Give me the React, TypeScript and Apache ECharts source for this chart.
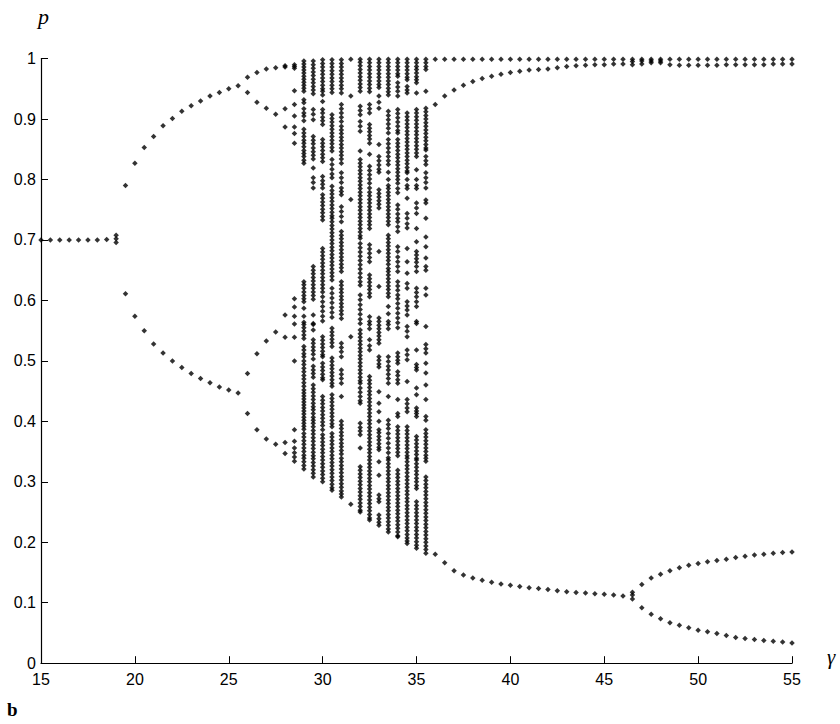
import React, { useEffect, useRef } from "react";
import * as echarts from "echarts";

// ---- tick labels ----
const xTicks = [15, 20, 25, 30, 35, 40, 45, 50, 55];
const yTicks = [0, 0.1, 0.2, 0.3, 0.4, 0.5, 0.6, 0.7, 0.8, 0.9, 1];

// ---- period 1 ----
const gammaP1 = [15, 15.5, 16, 16.5, 17, 17.5, 18, 18.5];
const pP1 = [0.7, 0.7, 0.7, 0.7, 0.7, 0.7, 0.7, 0.701];
const col19 = [0.708, 0.702, 0.696];

// ---- period 2 ----
const gammaP2 = [19.5, 20, 20.5, 21, 21.5, 22, 22.5, 23, 23.5, 24, 24.5, 25, 25.5];
const p2Upper = [0.79, 0.827, 0.853, 0.871, 0.889, 0.901, 0.913, 0.922, 0.93, 0.938, 0.944, 0.95, 0.955];
const p2Lower = [0.611, 0.574, 0.55, 0.528, 0.513, 0.5, 0.489, 0.479, 0.471, 0.464, 0.457, 0.452, 0.447];

// ---- period 4 ----
const gammaP4 = [26, 26.5, 27, 27.5];
const p4A = [0.969, 0.977, 0.983, 0.985];
const p4B = [0.944, 0.928, 0.918, 0.908];
const p4C = [0.479, 0.512, 0.533, 0.548];
const p4D = [0.413, 0.386, 0.371, 0.362];

// ---- onset of chaos ----
const col28 = [0.988, 0.986, 0.917, 0.887, 0.576, 0.539, 0.365, 0.347];
const col28_5 = [0.99, 0.987, 0.984, 0.947, 0.924, 0.905, 0.887, 0.876, 0.86, 0.603, 0.589, 0.574, 0.561, 0.539, 0.5, 0.386, 0.367, 0.356, 0.348, 0.341, 0.334];

// ---- chaotic columns ----
const col29 = [0.996, 0.991, 0.986, 0.981, 0.976, 0.971, 0.966, 0.961, 0.956, 0.951, 0.946, 0.932, 0.927, 0.917, 0.91, 0.905, 0.897, 0.883, 0.877, 0.871, 0.865, 0.86, 0.854, 0.848, 0.843, 0.838, 0.832, 0.827,
  0.631, 0.626, 0.62, 0.614, 0.608, 0.603, 0.598, 0.587, 0.574, 0.564,
  0.56, 0.555, 0.549, 0.543, 0.537, 0.524, 0.518, 0.512, 0.507, 0.5, 0.494, 0.488, 0.482, 0.476, 0.47, 0.464, 0.458, 0.452, 0.447, 0.442, 0.437, 0.432, 0.427, 0.422, 0.417, 0.412, 0.407, 0.402, 0.397, 0.392, 0.387, 0.38, 0.374, 0.368, 0.362, 0.356, 0.35, 0.344, 0.339, 0.333, 0.327, 0.321];
const col29_5 = [0.996, 0.99, 0.984, 0.978, 0.972, 0.966, 0.96, 0.954, 0.948, 0.942, 0.916, 0.908, 0.899, 0.871, 0.865, 0.859, 0.852, 0.846, 0.84, 0.834, 0.819, 0.803, 0.795, 0.786,
  0.656, 0.65, 0.644, 0.638, 0.632, 0.626, 0.62, 0.614, 0.608, 0.602, 0.576, 0.562,
  0.56, 0.551, 0.535, 0.529, 0.523, 0.517, 0.511, 0.503, 0.491, 0.485, 0.479, 0.473, 0.46, 0.454, 0.448, 0.442, 0.436, 0.43, 0.424, 0.419, 0.413, 0.407, 0.402, 0.397, 0.391, 0.385, 0.379, 0.373, 0.367, 0.361, 0.355, 0.349, 0.343, 0.338, 0.332, 0.326, 0.32, 0.314, 0.308];
const col30 = [0.998, 0.992, 0.986, 0.98, 0.974, 0.968, 0.962, 0.956, 0.95, 0.946, 0.94, 0.929, 0.916, 0.91, 0.903, 0.897, 0.891, 0.866, 0.86, 0.854, 0.848, 0.842, 0.836, 0.83, 0.805, 0.798, 0.792, 0.786,
  0.775, 0.769, 0.763, 0.757, 0.751, 0.745, 0.739, 0.733,
  0.686, 0.68, 0.674, 0.668, 0.662, 0.656, 0.65, 0.644, 0.638, 0.632, 0.626, 0.62, 0.614, 0.606, 0.598, 0.59, 0.582, 0.574, 0.566,
  0.54, 0.534, 0.528, 0.522, 0.516, 0.51, 0.507, 0.496, 0.49, 0.484, 0.478, 0.472, 0.469,
  0.441, 0.435, 0.429, 0.423, 0.417, 0.411, 0.405, 0.399, 0.393, 0.386, 0.378, 0.372, 0.366, 0.36, 0.354, 0.348, 0.342, 0.336, 0.33, 0.324, 0.318, 0.312, 0.306, 0.3];
const col30_5 = [0.998, 0.992, 0.986, 0.98, 0.974, 0.968, 0.962, 0.956, 0.95, 0.944, 0.907, 0.901, 0.895, 0.889, 0.883, 0.877, 0.871, 0.865, 0.859, 0.853, 0.847, 0.833, 0.825, 0.817, 0.809, 0.803, 0.789,
  0.782, 0.776, 0.77, 0.764, 0.758, 0.752, 0.746, 0.74, 0.736, 0.73, 0.724, 0.718, 0.712, 0.706, 0.7, 0.694, 0.688, 0.682, 0.676, 0.67, 0.664, 0.658, 0.652, 0.646, 0.64, 0.634, 0.62, 0.612, 0.604, 0.596, 0.588, 0.58, 0.572,
  0.554, 0.548, 0.542, 0.536, 0.53, 0.524, 0.505, 0.499, 0.493, 0.487, 0.481, 0.475, 0.469, 0.463, 0.458, 0.444, 0.438, 0.432, 0.426, 0.42, 0.414, 0.408, 0.402, 0.396, 0.391, 0.38, 0.374, 0.368, 0.362, 0.356, 0.35, 0.344,
  0.338, 0.332, 0.326, 0.32, 0.314, 0.308, 0.302, 0.296, 0.29, 0.286];
const col31 = [0.998, 0.992, 0.986, 0.98, 0.974, 0.968, 0.962, 0.956, 0.95, 0.943, 0.924, 0.917, 0.91, 0.903, 0.896, 0.888, 0.882, 0.876, 0.87, 0.864, 0.858, 0.852, 0.846, 0.84, 0.834, 0.827, 0.811, 0.803, 0.795, 0.786,
  0.78, 0.775, 0.755, 0.747, 0.739, 0.73, 0.714, 0.708, 0.702, 0.696, 0.69, 0.684, 0.678, 0.672, 0.666, 0.66, 0.654, 0.648, 0.631, 0.625, 0.619, 0.613, 0.607, 0.601, 0.595, 0.589, 0.583, 0.577, 0.57,
  0.529, 0.522, 0.515, 0.507, 0.485, 0.478, 0.471, 0.463, 0.441, 0.4, 0.394, 0.388, 0.382, 0.376, 0.37, 0.364, 0.358, 0.352, 0.346, 0.339,
  0.333, 0.327, 0.321, 0.315, 0.309, 0.303, 0.297, 0.291, 0.285, 0.28, 0.275];
const col31_5 = [0.999, 0.938, 0.767, 0.54, 0.263];
const col32 = [0.999, 0.994, 0.988, 0.982, 0.976, 0.97, 0.964, 0.958, 0.952, 0.946, 0.921, 0.914, 0.907, 0.896, 0.888, 0.88, 0.847, 0.833, 0.827, 0.821, 0.815, 0.809, 0.803, 0.797, 0.791,
  0.785, 0.779, 0.773, 0.767, 0.761, 0.755, 0.749, 0.743, 0.737, 0.731, 0.725, 0.719, 0.713, 0.707, 0.703, 0.694, 0.687, 0.68, 0.673, 0.666, 0.659, 0.652, 0.645, 0.638, 0.631, 0.625, 0.609, 0.601, 0.593, 0.585, 0.577, 0.569, 0.562,
  0.551, 0.545, 0.539, 0.533, 0.527, 0.521, 0.515, 0.509, 0.503, 0.497, 0.491, 0.485, 0.479, 0.473, 0.467, 0.463, 0.455, 0.448, 0.441, 0.434, 0.43, 0.397, 0.39, 0.384, 0.378, 0.356,
  0.325, 0.319, 0.313, 0.307, 0.301, 0.295, 0.289, 0.283, 0.277, 0.271, 0.265, 0.259, 0.253, 0.25];
const col32_5 = [0.999, 0.993, 0.987, 0.981, 0.975, 0.969, 0.963, 0.957, 0.951, 0.945, 0.924, 0.917, 0.91, 0.891, 0.885, 0.879, 0.873, 0.867, 0.86, 0.842, 0.822, 0.815, 0.808, 0.801, 0.794, 0.786,
  0.779, 0.773, 0.767, 0.761, 0.755, 0.749, 0.743, 0.737, 0.731, 0.725, 0.719, 0.692, 0.685, 0.678, 0.671, 0.664, 0.642, 0.636, 0.63, 0.624, 0.618, 0.612, 0.606, 0.573, 0.565,
  0.56, 0.553, 0.535, 0.525, 0.518, 0.474, 0.468, 0.462, 0.456, 0.45, 0.444, 0.438, 0.432, 0.426, 0.42, 0.414, 0.408, 0.402, 0.396, 0.39, 0.384, 0.378, 0.372, 0.366, 0.36, 0.354, 0.348, 0.342,
  0.336, 0.33, 0.324, 0.318, 0.312, 0.306, 0.3, 0.294, 0.288, 0.282, 0.276, 0.27, 0.264, 0.258, 0.252, 0.246, 0.24, 0.237];
const col33 = [0.999, 0.993, 0.987, 0.981, 0.975, 0.969, 0.963, 0.957, 0.952, 0.938, 0.928, 0.918, 0.858, 0.838, 0.831, 0.824, 0.817, 0.812,
  0.783, 0.777, 0.771, 0.765, 0.759, 0.753, 0.681, 0.623, 0.571, 0.565, 0.559, 0.553, 0.547, 0.541, 0.535, 0.529, 0.507, 0.501, 0.495, 0.49, 0.449, 0.43, 0.416, 0.4, 0.386,
  0.381, 0.375, 0.369, 0.363, 0.357, 0.353, 0.333, 0.311, 0.278, 0.272, 0.267, 0.245, 0.239, 0.233, 0.228];
const col33_5 = [0.999, 0.993, 0.987, 0.981, 0.975, 0.969, 0.963, 0.957, 0.951, 0.945, 0.94, 0.913, 0.906, 0.899, 0.892, 0.885, 0.877, 0.866, 0.859, 0.852, 0.845, 0.838, 0.831, 0.825, 0.812, 0.8, 0.79,
  0.785, 0.779, 0.773, 0.767, 0.761, 0.755, 0.749, 0.743, 0.737, 0.731, 0.725, 0.708, 0.702, 0.696, 0.69, 0.684, 0.678, 0.672, 0.666, 0.66, 0.653, 0.648, 0.642, 0.636, 0.63, 0.624, 0.618, 0.612, 0.606, 0.59, 0.578, 0.565,
  0.56, 0.553, 0.507, 0.499, 0.491, 0.485, 0.478, 0.471, 0.463, 0.441, 0.402, 0.395, 0.388, 0.38, 0.372, 0.364, 0.356, 0.348, 0.34,
  0.336, 0.33, 0.324, 0.318, 0.312, 0.306, 0.3, 0.294, 0.288, 0.282, 0.276, 0.27, 0.264, 0.258, 0.252, 0.246, 0.24, 0.234, 0.228, 0.222, 0.217];
const col34 = [0.999, 0.993, 0.987, 0.981, 0.975, 0.971, 0.96, 0.953, 0.946, 0.938, 0.916, 0.909, 0.902, 0.895, 0.888, 0.881, 0.877, 0.866, 0.86, 0.854, 0.848, 0.842, 0.836, 0.83, 0.824, 0.818, 0.812, 0.806, 0.8, 0.794,
  0.785, 0.778, 0.758, 0.751, 0.743, 0.736, 0.73, 0.722, 0.714, 0.689, 0.681, 0.672, 0.664, 0.656, 0.648, 0.631, 0.624, 0.617, 0.609, 0.603, 0.595, 0.587, 0.579, 0.571, 0.563,
  0.555, 0.513, 0.507, 0.501, 0.496, 0.482, 0.476, 0.469, 0.463, 0.436, 0.413, 0.408, 0.391, 0.385, 0.379, 0.373, 0.367, 0.361, 0.355, 0.349, 0.343,
  0.319, 0.313, 0.307, 0.301, 0.295, 0.289, 0.283, 0.277, 0.271, 0.265, 0.259, 0.253, 0.247, 0.241, 0.235, 0.229, 0.223, 0.217, 0.211, 0.209];
const col34_5 = [0.999, 0.993, 0.987, 0.981, 0.975, 0.969, 0.965, 0.954, 0.948, 0.943, 0.91, 0.904, 0.898, 0.892, 0.886, 0.88, 0.874, 0.868, 0.862, 0.856, 0.85, 0.844, 0.838, 0.832, 0.826, 0.82, 0.814, 0.811, 0.8, 0.79,
  0.785, 0.769, 0.744, 0.736, 0.727, 0.72, 0.686, 0.664, 0.645, 0.628, 0.62, 0.598, 0.591, 0.584, 0.576,
  0.557, 0.549, 0.54, 0.518, 0.51, 0.502, 0.466, 0.436, 0.429, 0.422, 0.416, 0.391, 0.385, 0.379, 0.373, 0.367, 0.361, 0.355, 0.349, 0.343, 0.339,
  0.333, 0.327, 0.321, 0.315, 0.309, 0.303, 0.297, 0.291, 0.285, 0.279, 0.273, 0.267, 0.261, 0.255, 0.249, 0.243, 0.237, 0.231, 0.225, 0.219, 0.213, 0.207, 0.202, 0.198];
const col35 = [0.999, 0.993, 0.987, 0.982, 0.976, 0.97, 0.965, 0.96, 0.943, 0.916, 0.91, 0.904, 0.898, 0.892, 0.886, 0.88, 0.874, 0.868, 0.862, 0.856, 0.85, 0.844, 0.838, 0.816, 0.8, 0.79,
  0.785, 0.761, 0.753, 0.744, 0.719, 0.697, 0.681, 0.675, 0.669, 0.663, 0.656, 0.648, 0.62, 0.613, 0.606, 0.598, 0.59, 0.565,
  0.562, 0.518, 0.494, 0.489, 0.485, 0.455, 0.444, 0.422, 0.417, 0.413, 0.408, 0.375, 0.369, 0.363, 0.357, 0.351, 0.345, 0.339,
  0.336, 0.33, 0.324, 0.318, 0.312, 0.306, 0.3, 0.294, 0.289, 0.267, 0.261, 0.255, 0.249, 0.243, 0.237, 0.231, 0.225, 0.219, 0.213, 0.207, 0.201, 0.195, 0.19];
const col35_5 = [0.999, 0.993, 0.987, 0.982, 0.946, 0.918, 0.912, 0.906, 0.9, 0.894, 0.888, 0.882, 0.876, 0.87, 0.864, 0.858, 0.852, 0.849, 0.838, 0.831, 0.825, 0.811, 0.803, 0.795, 0.786,
  0.766, 0.761, 0.736, 0.705, 0.689, 0.67, 0.656, 0.65, 0.62, 0.609,
  0.557, 0.527, 0.52, 0.513, 0.496, 0.48, 0.46, 0.436, 0.408, 0.402, 0.386, 0.38, 0.374, 0.368, 0.362, 0.356, 0.35, 0.344, 0.339,
  0.334, 0.308, 0.302, 0.296, 0.29, 0.284, 0.278, 0.272, 0.266, 0.26, 0.254, 0.248, 0.242, 0.236, 0.23, 0.224, 0.218, 0.212, 0.206, 0.2, 0.194, 0.188, 0.182];

const chaosGammas = [28, 28.5, 29, 29.5, 30, 30.5, 31, 31.5, 32, 32.5, 33, 33.5, 34, 34.5, 35, 35.5];
const chaosCols = [col28, col28_5, col29, col29_5, col30, col30_5, col31, col31_5, col32, col32_5, col33, col33_5, col34, col34_5, col35, col35_5];

// ---- period 3 ----
const gammaP3 = [36, 36.5, 37, 37.5, 38, 38.5, 39, 39.5, 40, 40.5, 41, 41.5, 42, 42.5, 43, 43.5, 44, 44.5, 45, 45.5, 46];
const p3Top = [0.999, 0.999, 0.999, 0.999, 0.999, 0.999, 0.999, 0.999, 0.999, 0.999, 0.999, 0.999, 0.999, 0.999, 0.999, 0.999, 0.999, 0.999, 0.999, 0.999, 0.999];
const p3Mid = [0.924, 0.938, 0.948, 0.956, 0.962, 0.967, 0.971, 0.974, 0.977, 0.979, 0.981, 0.982, 0.983, 0.985, 0.987, 0.988, 0.989, 0.99, 0.99, 0.991, 0.991];
const p3Low = [0.18, 0.166, 0.153, 0.146, 0.141, 0.137, 0.134, 0.131, 0.129, 0.127, 0.125, 0.1235, 0.122, 0.12, 0.118, 0.117, 0.116, 0.115, 0.114, 0.113, 0.111];
const col46_5 = [0.999, 0.995, 0.99, 0.1175, 0.113, 0.106];

// ---- period 6 ----
const gammaP6 = [47, 47.5, 48, 48.5, 49, 49.5, 50, 50.5, 51, 51.5, 52, 52.5, 53, 53.5, 54, 54.5, 55];
const p6Top = [0.999, 0.999, 0.999, 0.999, 0.999, 0.999, 0.999, 0.999, 0.999, 0.999, 0.999, 0.999, 0.999, 0.999, 0.999, 0.999, 0.999];
const p6UpperSplit = [0.996, 0.996, 0.996];
const p6Mid = [0.991, 0.993, 0.993, 0.99, 0.989, 0.989, 0.989, 0.989, 0.989, 0.99, 0.99, 0.99, 0.99, 0.99, 0.991, 0.991, 0.991];
const p6LowA = [0.13, 0.141, 0.147, 0.153, 0.158, 0.162, 0.165, 0.168, 0.17, 0.172, 0.175, 0.177, 0.179, 0.18, 0.182, 0.183, 0.184];
const p6LowB = [0.0916, 0.081, 0.0734, 0.0668, 0.0629, 0.0585, 0.0546, 0.052, 0.049, 0.0458, 0.0425, 0.041, 0.039, 0.0375, 0.0364, 0.035, 0.0336];

function buildPoints(): number[][] {
  const pts: number[][] = [];
  const addBranch = (gs: number[], ps: number[]) => gs.forEach((g, i) => { if (i < ps.length) pts.push([g, ps[i]]); });
  const addCol = (g: number, ps: number[]) => ps.forEach((p) => pts.push([g, p]));
  addBranch(gammaP1, pP1);
  addCol(19, col19);
  addBranch(gammaP2, p2Upper);
  addBranch(gammaP2, p2Lower);
  [p4A, p4B, p4C, p4D].forEach((b) => addBranch(gammaP4, b));
  chaosGammas.forEach((g, i) => addCol(g, chaosCols[i]));
  [p3Top, p3Mid, p3Low].forEach((b) => addBranch(gammaP3, b));
  addCol(46.5, col46_5);
  [p6Top, p6UpperSplit, p6Mid, p6LowA, p6LowB].forEach((b) => addBranch(gammaP6, b));
  return pts;
}

const LEFT = 41;
const RIGHT = 48;
const TOP = 58.6;
const BOTTOM = 60.8;

export default function App() {
  const ref = useRef<HTMLDivElement>(null);
  useEffect(() => {
    if (!ref.current) return;
    const chart = echarts.init(ref.current, null, { renderer: "svg" });
    const axisFont = { fontFamily: '"Liberation Sans", Arial, sans-serif', fontSize: 16, color: "#000" };
    chart.setOption({
      animation: false,
      backgroundColor: "#fff",
      grid: { left: LEFT, right: RIGHT, top: TOP, bottom: BOTTOM, containLabel: false },
      xAxis: {
        type: "value",
        min: xTicks[0],
        max: xTicks[xTicks.length - 1],
        interval: 5,
        axisLine: { show: true, lineStyle: { color: "#000", width: 1.2 } },
        axisTick: { show: true, inside: true, length: 7, lineStyle: { color: "#000" } },
        splitLine: { show: false },
        axisLabel: { ...axisFont, margin: 8, formatter: (v: number) => String(v) },
      },
      yAxis: {
        type: "value",
        min: yTicks[0],
        max: yTicks[yTicks.length - 1],
        interval: 0.1,
        axisLine: { show: true, lineStyle: { color: "#000", width: 1.2 } },
        axisTick: { show: true, inside: true, length: 7, lineStyle: { color: "#000" } },
        splitLine: { show: false },
        axisLabel: { ...axisFont, margin: 5, formatter: (v: number) => String(Math.round(v * 10) / 10) },
      },
      series: [
        {
          type: "scatter",
          data: buildPoints(),
          symbol: "diamond",
          symbolSize: 5.5,
          itemStyle: { color: "#000" },
          silent: true,
        },
      ],
      graphic: [
        { type: "text", left: 38, top: 5, style: { text: "p", font: 'italic 22px "Liberation Serif", serif', fill: "#000" } },
        { type: "text", left: 827, top: 646, style: { text: "γ", font: 'italic 21px "Liberation Serif", serif', fill: "#000" } },
        { type: "text", left: 7, top: 700, style: { text: "b", font: 'bold 19px "Liberation Serif", serif', fill: "#000" } },
      ],
    });
    return () => chart.dispose();
  }, []);
  return (
    <div style={{ position: "fixed", left: 0, top: 0, width: 840, height: 724, background: "#fff" }}>
      <div ref={ref} style={{ width: 840, height: 724 }} />
    </div>
  );
}
